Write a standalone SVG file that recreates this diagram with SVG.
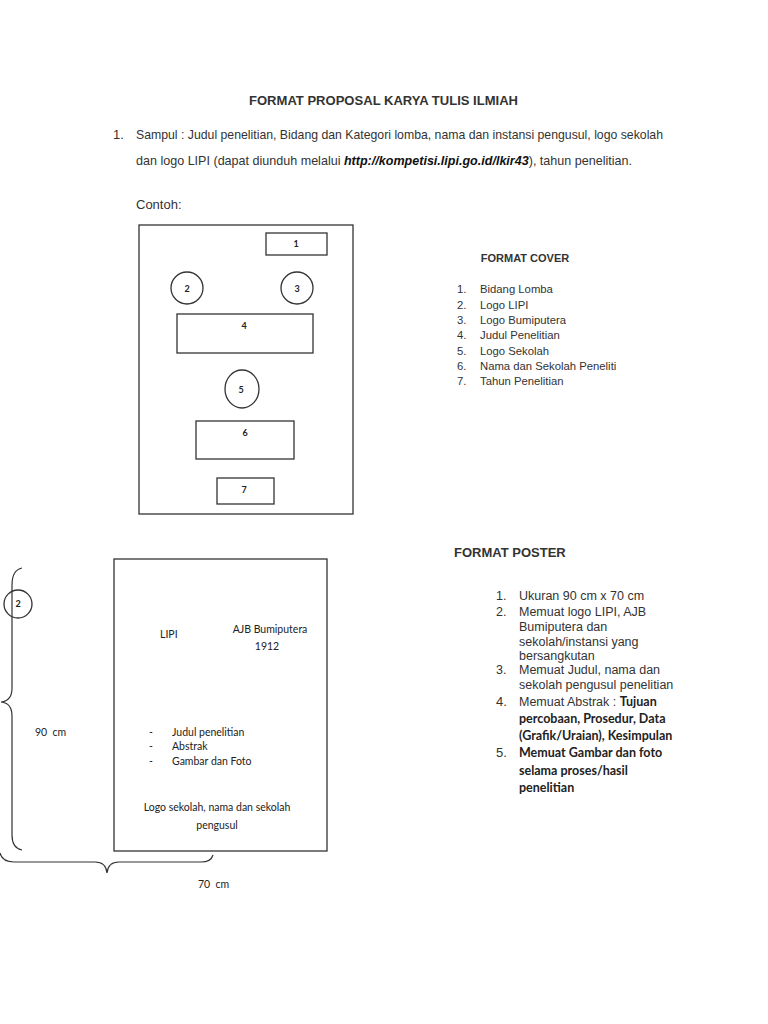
<svg xmlns="http://www.w3.org/2000/svg" width="768" height="1024" viewBox="0 0 768 1024">
<style>
.a{font-family:"Liberation Sans",Arial,sans-serif;fill:#333}
.c{font-family:Lato,"Open Sans",sans-serif;fill:#222}
.box{fill:none;stroke:#333;stroke-width:1.3}
.lbl{font-family:Lato,"Open Sans",sans-serif;font-weight:bold;font-size:9px;fill:#222;text-anchor:middle}
.br{fill:none;stroke:#333;stroke-width:1.2}
</style>
<rect width="768" height="1024" fill="#fff"/>
<g id="header">
<text class="a" x="383.5" y="105" font-size="13" font-weight="bold" text-anchor="middle" textLength="269" lengthAdjust="spacingAndGlyphs">FORMAT PROPOSAL KARYA TULIS ILMIAH</text>
<text class="a" x="113" y="139" font-size="13">1.</text>
<text class="a" x="136" y="139" font-size="13" textLength="527" lengthAdjust="spacingAndGlyphs">Sampul : Judul penelitian, Bidang dan Kategori lomba, nama dan instansi pengusul, logo sekolah</text>
<text class="a" x="136" y="165" font-size="13" textLength="496" lengthAdjust="spacingAndGlyphs">dan logo LIPI (dapat diunduh melalui <tspan font-weight="bold" font-style="italic" fill="#111">http://kompetisi.lipi.go.id/lkir43</tspan>), tahun penelitian.</text>
<text class="a" x="136" y="209" font-size="13">Contoh:</text>
</g>
<g id="cover">
<rect class="box" x="139" y="225" width="214" height="289"/>
<g id="c1"><rect class="box" x="266" y="233" width="61" height="22"/><text class="lbl" x="296" y="247">1</text></g>
<g id="c2"><circle class="box" cx="187" cy="288" r="16"/><text class="lbl" x="187" y="292">2</text></g>
<g id="c3"><circle class="box" cx="297" cy="288" r="16"/><text class="lbl" x="297" y="292">3</text></g>
<g id="c4"><rect class="box" x="177" y="314" width="136" height="39"/><text class="lbl" x="244" y="329">4</text></g>
<g id="c5"><ellipse class="box" cx="242" cy="389" rx="17" ry="19"/><text class="lbl" x="241" y="393">5</text></g>
<g id="c6"><rect class="box" x="196" y="421" width="98" height="38"/><text class="lbl" x="245" y="436">6</text></g>
<g id="c7"><rect class="box" x="217" y="478" width="57" height="26"/><text class="lbl" x="244" y="493">7</text></g>
</g>
<g id="cover-list" class="a" font-size="11.3">
<text x="525" y="262" font-weight="bold" text-anchor="middle" font-size="11">FORMAT COVER</text>
<text x="457" y="293">1.</text><text x="480" y="293">Bidang Lomba</text>
<text x="457" y="308.5">2.</text><text x="480" y="308.5">Logo LIPI</text>
<text x="457" y="324">3.</text><text x="480" y="324">Logo Bumiputera</text>
<text x="457" y="339">4.</text><text x="480" y="339">Judul Penelitian</text>
<text x="457" y="354.5">5.</text><text x="480" y="354.5">Logo Sekolah</text>
<text x="457" y="370">6.</text><text x="480" y="370">Nama dan Sekolah Peneliti</text>
<text x="457" y="385">7.</text><text x="480" y="385">Tahun Penelitian</text>
</g>
<g id="poster">
<rect class="box" x="114" y="559" width="213" height="292"/>
<g class="c" font-size="10.5">
<text x="160" y="638">LIPI</text>
<text x="270" y="633" text-anchor="middle">AJB Bumiputera</text>
<text x="267" y="650" text-anchor="middle">1912</text>
<text x="149" y="736">-</text><text x="172" y="736">Judul penelitian</text>
<text x="149" y="750">-</text><text x="172" y="750">Abstrak</text>
<text x="149" y="765">-</text><text x="172" y="765">Gambar dan Foto</text>
<text x="217" y="811" text-anchor="middle">Logo sekolah, nama dan sekolah</text>
<text x="217" y="829" text-anchor="middle">pengusul</text>
</g>
</g>
<g id="badge2"><circle class="box" cx="18" cy="604" r="14"/><text class="lbl" x="18" y="607">2</text></g>
<g id="dimensions">
<path class="br" d="M22,568 Q12,570 12,585 L12,688 Q12,701 1,702 Q12,703 12,716 L12,835 Q12,848 22,850"/>
<path class="br" d="M0,853 Q2,862 14,862 L95,862 Q106,862 107,873 Q108,862 119,862 L201,862 Q211,862 213,855"/>
<text class="c" x="35" y="736" font-size="10.5" xml:space="preserve">90  cm</text>
<text class="c" x="198" y="888" font-size="10.5" xml:space="preserve">70  cm</text>
</g>
<g id="poster-list">
<text class="a" x="454" y="557" font-size="13" font-weight="bold">FORMAT POSTER</text>
<g class="a" font-size="12.5">
<text x="496" y="600">1.</text><text x="519" y="600">Ukuran 90 cm x 70 cm</text>
<text x="496" y="615.5">2.</text><text x="519" y="615.5">Memuat logo LIPI, AJB</text>
<text x="519" y="630.5">Bumiputera dan</text>
<text x="519" y="645.5">sekolah/instansi yang</text>
<text x="519" y="659.5">bersangkutan</text>
<text x="496" y="674">3.</text><text x="519" y="674">Memuat Judul, nama dan</text>
<text x="519" y="689">sekolah pengusul penelitian</text>
<text x="496" y="705.5" font-size="13">4.</text><text x="519" y="705.5">Memuat Abstrak : <tspan class="c" font-weight="bold" font-size="12.5" fill="#222">Tujuan</tspan></text>
<text x="496" y="757" font-size="13">5.</text>
</g>
<g class="c" font-size="12.5" font-weight="bold">
<text x="519" y="722.5">percobaan, Prosedur, Data</text>
<text x="519" y="740">(Grafik/Uraian), Kesimpulan</text>
<text x="519" y="757">Memuat Gambar dan foto</text>
<text x="519" y="775">selama proses/hasil</text>
<text x="519" y="792">penelitian</text>
</g>
</g>
</svg>
